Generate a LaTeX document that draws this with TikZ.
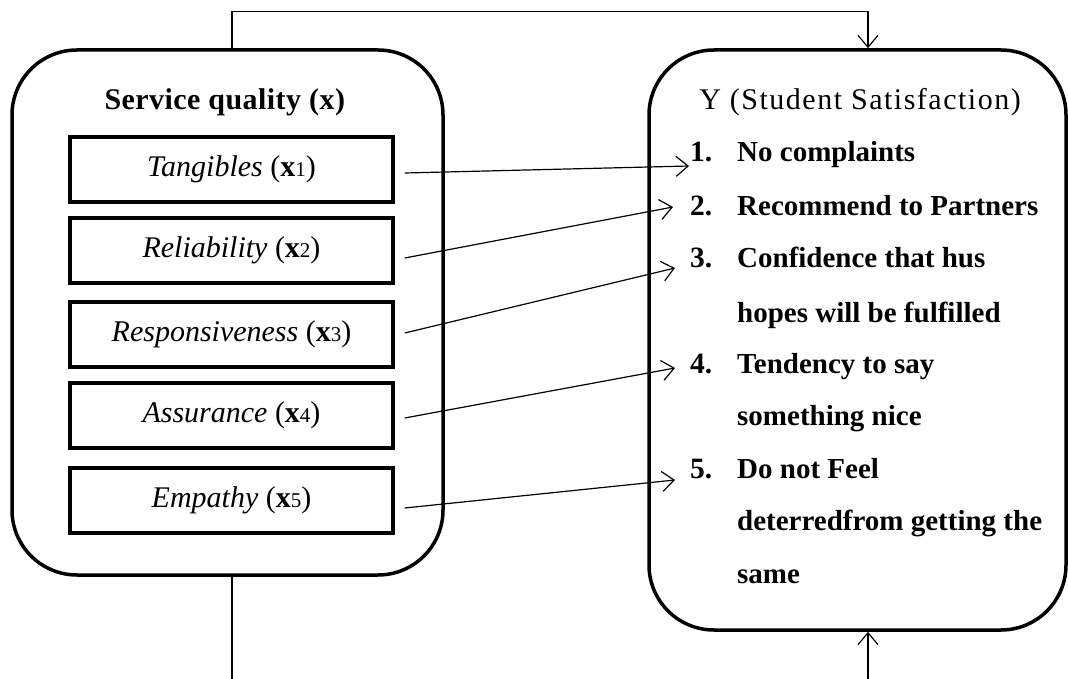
\documentclass[tikz,border=0pt]{standalone}
\usepackage{fontspec}
\setmainfont{Liberation Serif}
\usetikzlibrary{arrows.meta}
\newcommand\xsub[1]{(\textbf{x}{\fontsize{21}{21}\selectfont #1})}
\begin{document}
\begin{tikzpicture}[x=1pt,y=-1pt,
  font=\fontsize{30}{36}\selectfont,
  bigbox/.style={draw, line width=3.5pt, rounded corners=65pt, inner sep=0pt},
  factor/.style={draw, line width=3.5pt, minimum width=323pt, minimum height=65pt,
    inner sep=0pt, text height=20pt, text depth=6pt},
  tipstyle/.style={-{Straight Barb[length=12pt,width=20pt,line width=1.2pt]}},
  link/.style={line width=1.2pt, tipstyle},
  plain/.style={line width=1.2pt},
  num/.style={anchor=base west, inner sep=0pt, font=\fontsize{29.5}{36}\selectfont\bfseries},
  item/.style={anchor=base west, inner sep=0pt, font=\fontsize{29}{36}\selectfont\bfseries},
  title/.style={anchor=base, inner sep=0pt}]
\useasboundingbox (0,0) rectangle (1068,679);
\fill[white] (0,0) rectangle (1068,679);

% big boxes
\node[bigbox, minimum width=431pt, minimum height=525pt] (lbox) at (227.5,312.5) {};
\node[bigbox, minimum width=417pt, minimum height=580pt] (rbox) at (857.5,340) {};

% titles
\node[title] (sq) at (225,110) {\addfontfeature{LetterSpace=1.5}\textbf{Service quality (x)}};
\node[title] (yt) at (860,110) {\addfontfeature{LetterSpace=5}Y (Student Satisfaction)};

% factor boxes
\node[factor] (t1) at (231.5,169.5) {\textit{Tangibles} \xsub{1}};
\node[factor] (t2) at (231.5,250.5) {\textit{Reliability} \xsub{2}};
\node[factor] (t3) at (231.5,334.5) {\textit{Responsiveness} \xsub{3}};
\node[factor] (t4) at (231.5,415.5) {\textit{Assurance} \xsub{4}};
\node[factor] (t5) at (231.5,500.5) {\textit{Empathy} \xsub{5}};

% items
\node[num] (n1) at (690,162) {1.};
\node[item] (i1) at (737,162) {No complaints};
\node[num] (n2) at (690,215) {2.};
\node[item] (i2) at (737,215) {Recommend to Partners};
\node[num] (n3) at (690,267) {3.};
\node[item] (i3a) at (737,267) {Confidence that hus};
\node[item] (i3b) at (737,322) {hopes will be fulfilled};
\node[num] (n4) at (690,373) {4.};
\node[item] (i4a) at (737,373) {Tendency to say};
\node[item] (i4b) at (737,425) {something nice};
\node[num] (n5) at (690,478) {5.};
\node[item] (i5a) at (737,478) {Do not Feel};
\node[item] (i5b) at (737,530) {deterredfrom getting the};
\node[item] (i5c) at (737,583) {same};

% arrow tips
\coordinate (tip1) at (689,166);
\coordinate (tip2) at (673,207);
\coordinate (tip3) at (675,268);
\coordinate (tip4) at (675,368);
\coordinate (tip5) at (675,480);

\draw[link] ([xshift=10pt,yshift=-3.5pt]t1.east) -- (tip1);
\draw[link] ([xshift=10pt,yshift=-7.5pt]t2.east) -- (tip2);
\draw[link] ([xshift=10pt,yshift=1.5pt]t3.east) -- (tip3);
\draw[link] ([xshift=10pt,yshift=-2.5pt]t4.east) -- (tip4);
\draw[link] ([xshift=10pt,yshift=-7.5pt]t5.east) -- (tip5);

% outer connectors
\draw[link] ([xshift=4.5pt]lbox.north) -- ++(0,-37) -| ([xshift=10.5pt]rbox.north);
\coordinate (lb) at (232,679);
\coordinate (rb) at (868,679);
\draw[plain] ([xshift=4.5pt]lbox.south) -- (lb);
\draw[link] (rb) -- ([xshift=10.5pt]rbox.south);
\end{tikzpicture}
\end{document}
